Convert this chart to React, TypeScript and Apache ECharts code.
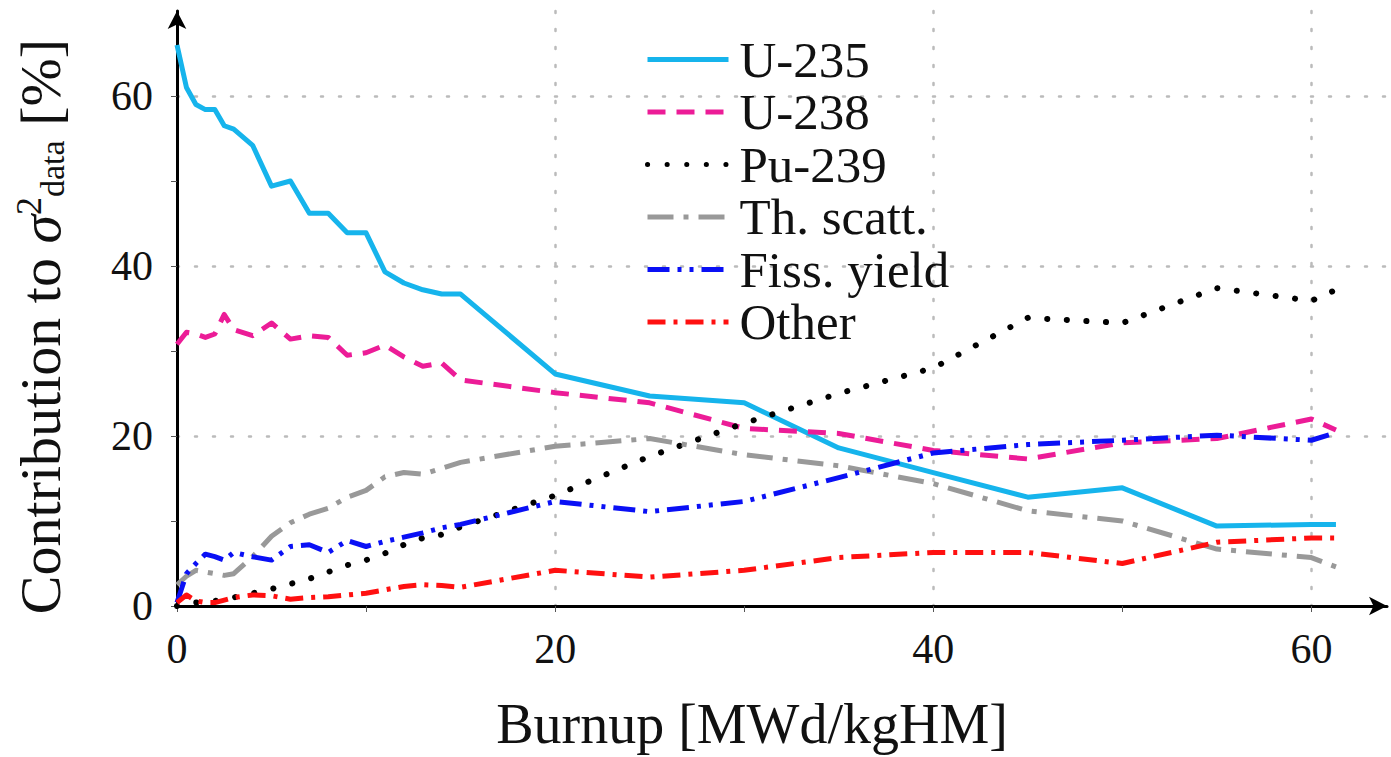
import React, { useEffect, useRef } from "react";
import * as echarts from "echarts";

const burnup = [0, 0.5, 1, 1.5, 2, 2.5, 3, 4, 5, 6, 7, 8, 9, 10, 11, 12, 13, 14, 15, 20, 25, 30, 35, 40, 45, 50, 55, 60, 61.3];
const u235 = [66, 61, 59, 58.4, 58.4, 56.5, 56.1, 54.2, 49.4, 50.0, 46.2, 46.2, 43.9, 43.9, 39.3, 38.0, 37.2, 36.7, 36.7, 27.3, 24.7, 23.9, 18.6, 15.7, 12.8, 13.9, 9.4, 9.6, 9.6];
const u238 = [30.8, 32.2, 32.0, 31.6, 32.0, 34.3, 32.5, 31.8, 33.3, 31.4, 31.8, 31.6, 29.5, 29.8, 30.7, 29.3, 28.2, 28.6, 26.6, 25.1, 23.9, 20.9, 20.3, 18.3, 17.3, 19.2, 19.7, 22.0, 20.7];
const pu239 = [0, 0.2, 0.4, 0.5, 0.6, 0.8, 1.0, 1.5, 2.0, 2.6, 3.2, 4.0, 4.8, 5.4, 6.2, 7.2, 8.0, 8.4, 9.3, 13.0, 17.6, 21.5, 25.0, 28.0, 33.9, 33.3, 37.4, 35.9, 37.2];
const thScatt = [2.5, 3.5, 4.2, 4.0, 3.8, 3.6, 3.8, 5.8, 8.2, 9.8, 10.8, 11.5, 12.8, 13.6, 15.2, 15.7, 15.5, 16.2, 16.9, 18.8, 19.7, 17.8, 16.5, 14.4, 11.2, 10.0, 6.7, 5.7, 4.6];
const fissYield = [0.4, 3.8, 5.0, 6.1, 5.8, 5.4, 6.3, 5.8, 5.4, 7.0, 7.2, 6.3, 7.7, 7.0, 7.6, 8.1, 8.6, 9.2, 9.6, 12.3, 11.1, 12.3, 15.1, 18.0, 19.0, 19.5, 20.1, 19.5, 20.4];
const other = [0.4, 1.3, 0.6, 0.4, 0.4, 0.7, 1.0, 1.3, 1.2, 0.8, 1.0, 1.1, 1.3, 1.5, 1.9, 2.3, 2.5, 2.4, 2.2, 4.2, 3.4, 4.2, 5.7, 6.3, 6.3, 5.0, 7.5, 8.0, 8.0];

const seriesNames = ["U-235", "U-238", "Pu-239", "Th. scatt.", "Fiss. yield", "Other"];

const FONT = "Liberation Serif";

export default function App() {
  const ref = useRef<HTMLDivElement>(null);
  useEffect(() => {
    if (!ref.current) return;
    const chart = echarts.init(ref.current, undefined, { renderer: "svg" });
    const pair = (ys: number[]) => burnup.map((x, i) => [x, ys[i]]);
    const mk = (name: string, ys: number[], color: string, type: any, width: number, cap: string = "butt") => ({
      name,
      type: "line",
      data: pair(ys),
      symbol: "none",
      showSymbol: false,
      lineStyle: { color, width, type, cap, join: "round" },
      itemStyle: { color },
      emphasis: { disabled: true },
    });
    chart.setOption({
      animation: false,
      backgroundColor: "#ffffff",
      grid: { left: 177, right: 4, top: 11, bottom: 137, containLabel: false },
      legend: {
        orient: "vertical",
        left: 640,
        top: 29,
        itemWidth: 81,
        itemHeight: 14,
        itemGap: 1.5,
        data: seriesNames,
        lineStyle: { width: 5 },
        itemStyle: { color: "rgba(0,0,0,0)", opacity: 0, borderWidth: 0 },
        textStyle: { fontFamily: FONT, fontSize: 51, color: "#111", padding: [0, 0, 0, 6] },
        selectedMode: false,
      },
      xAxis: {
        type: "value",
        min: 0,
        max: 64,
        interval: 10,
        name: "Burnup [MWd/kgHM]",
        nameLocation: "middle",
        nameGap: 90,
        nameTextStyle: { fontFamily: FONT, fontSize: 56, color: "#111", padding: [0, 60, 0, 0] },
        axisLine: { show: true, onZero: false, symbol: ["none", "arrow"], symbolSize: [14, 18], lineStyle: { color: "#000", width: 3 } },
        axisTick: { show: true, length: 6, inside: false, lineStyle: { color: "#555", width: 1 } },
        axisLabel: {
          fontFamily: FONT,
          fontSize: 42,
          color: "#111",
          margin: 22,
          showMaxLabel: false,
          formatter: (v: number) => (v % 20 === 0 ? String(v) : ""),
        },
        splitLine: {
          show: true,
          showMaxLine: false,
          lineStyle: { color: ["#bbbbbb", "rgba(0,0,0,0)"], type: [2, 16], width: 2.5, cap: "round" },
        },
      },
      yAxis: {
        type: "value",
        min: 0,
        max: 70,
        interval: 10,
        name: "Contribution to {s|σ}{sup|2}{sub|data} [%]",
        nameLocation: "middle",
        nameRotate: 90,
        nameGap: 108,
        nameTextStyle: {
          fontFamily: FONT,
          fontSize: 58,
          color: "#111",
          padding: [0, 36, 0, 0],
          rich: {
            s: { fontFamily: FONT, fontSize: 58, fontStyle: "italic", color: "#111" },
            sup: { fontFamily: FONT, fontSize: 36, color: "#111", verticalAlign: "top", padding: [0, 0, 14, 0] },
            sub: { fontFamily: FONT, fontSize: 34, color: "#111", verticalAlign: "bottom", padding: [10, 0, 0, 0] },
          },
        },
        axisLine: { show: true, onZero: false, symbol: ["none", "arrow"], symbolSize: [14, 18], lineStyle: { color: "#000", width: 3 } },
        axisTick: { show: true, length: 6, lineStyle: { color: "#555", width: 1 } },
        axisLabel: {
          fontFamily: FONT,
          fontSize: 42,
          color: "#111",
          margin: 24,
          showMaxLabel: false,
          formatter: (v: number) => (v % 20 === 0 ? String(v) : ""),
        },
        splitLine: {
          show: true,
          showMaxLine: false,
          lineStyle: { color: ["#bbbbbb", "rgba(0,0,0,0)"], type: [2, 16], width: 2.5, cap: "round" },
        },
      },
      series: [
        mk("U-235", u235, "#16b4ec", "solid", 5),
        mk("U-238", u238, "#ec1c97", [18, 11], 5),
        mk("Pu-239", pu239, "#000000", [0.1, 19.5], 6, "round"),
        mk("Th. scatt.", thScatt, "#999999", [26, 10, 5, 10], 5),
        mk("Fiss. yield", fissYield, "#0a10f5", [22, 8, 4, 8, 4, 8], 5),
        mk("Other", other, "#ff1010", [18, 8, 4, 8], 5),
      ],
    });
    return () => chart.dispose();
  }, []);
  return <div ref={ref} style={{ position: "fixed", left: 0, top: 0, width: 1391, height: 757 }} />;
}
